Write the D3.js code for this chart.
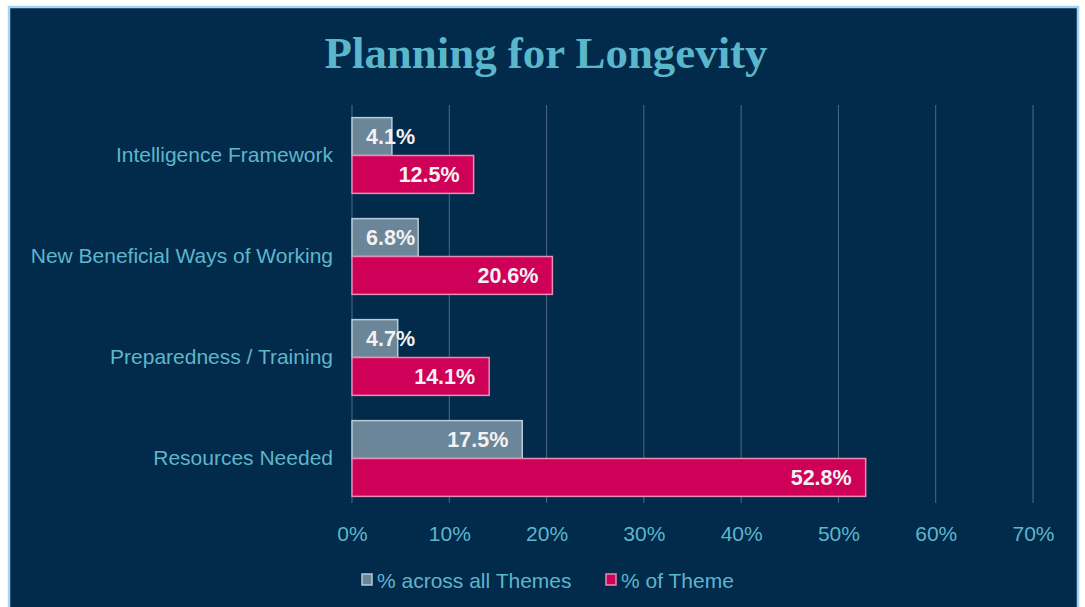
<!DOCTYPE html>
<html>
<head>
<meta charset="utf-8">
<script src="https://cdn.jsdelivr.net/npm/d3@7"></script>
<style>
  body { margin: 0; background: #ffffff; }
  svg { display: block; }
</style>
</head>
<body>
<svg width="1085" height="607"></svg>
<script>
// chart data
var categories = ["Intelligence Framework", "New Beneficial Ways of Working", "Preparedness / Training", "Resources Needed"];
var seriesNames = ["% across all Themes", "% of Theme"];
var acrossAll = [4.1, 6.8, 4.7, 17.5];
var ofTheme = [12.5, 20.6, 14.1, 52.8];
var xTicks = [0, 10, 20, 30, 40, 50, 60, 70];

var fills = ["#6b8599", "#cf0058"];
var strokes = ["#b9cad6", "#e88db3"];
var textColor = "#5db6cc";

var svg = d3.select("svg");

// panel with light border
svg.append("rect")
  .attr("x", 9).attr("y", 7)
  .attr("width", 1069).attr("height", 604)
  .attr("fill", "#022a4b")
  .attr("stroke", "#a6d3f2")
  .attr("stroke-width", 2.5);

// title
svg.append("text")
  .attr("x", 546).attr("y", 68)
  .attr("text-anchor", "middle")
  .attr("font-family", "Liberation Serif, serif")
  .attr("font-weight", "bold")
  .attr("font-size", 44)
  .attr("fill", "#5ab7cb")
  .attr("textLength", 443)
  .attr("lengthAdjust", "spacingAndGlyphs")
  .text("Planning for Longevity");

var plotLeft = 352, plotTop = 105, plotW = 681, plotH = 404;

var x = d3.scaleLinear().domain([0, 70]).range([plotLeft, plotLeft + plotW]);
var y0 = d3.scaleBand().domain(categories).range([plotTop, plotTop + plotH]).paddingInner(0.25).paddingOuter(0.125);
var y1 = d3.scaleBand().domain([0, 1]).range([0, y0.bandwidth()]);

// gridlines
svg.append("g").selectAll("line")
  .data(xTicks)
  .join("line")
  .attr("x1", function (d) { return x(d); })
  .attr("x2", function (d) { return x(d); })
  .attr("y1", plotTop)
  .attr("y2", plotTop + plotH - 6)
  .attr("stroke", "#4c6a85")
  .attr("stroke-width", 1);

// x axis tick labels
var xAxis = svg.append("g")
  .attr("transform", "translate(0," + (plotTop + plotH + 14) + ")")
  .call(d3.axisBottom(x).tickValues(xTicks).tickSize(0).tickFormat(function (d) { return d + "%"; }));
xAxis.select(".domain").remove();
xAxis.selectAll("text")
  .attr("fill", textColor)
  .attr("font-family", "Liberation Sans, Arial, sans-serif")
  .attr("font-size", 21);

// y axis category labels
var yAxis = svg.append("g")
  .attr("transform", "translate(" + (plotLeft - 19) + ",0)")
  .call(d3.axisLeft(y0).tickSize(0).tickPadding(0));
yAxis.select(".domain").remove();
yAxis.selectAll("text")
  .attr("fill", textColor)
  .attr("font-family", "Liberation Sans, Arial, sans-serif")
  .attr("font-size", 21);

var rows = categories.map(function (c, i) {
  return { cat: c, vals: [acrossAll[i], ofTheme[i]] };
});

var groups = svg.append("g").selectAll("g")
  .data(rows)
  .join("g")
  .attr("transform", function (d) { return "translate(0," + y0(d.cat) + ")"; });

groups.selectAll("rect")
  .data(function (d) { return d.vals.map(function (v, s) { return { v: v, s: s }; }); })
  .join("rect")
  .attr("x", x(0))
  .attr("y", function (d) { return y1(d.s); })
  .attr("width", function (d) { return x(d.v) - x(0); })
  .attr("height", y1.bandwidth())
  .attr("fill", function (d) { return fills[d.s]; })
  .attr("stroke", function (d) { return strokes[d.s]; })
  .attr("stroke-width", 1.5);

// value labels, inside end of bars
groups.selectAll("text.val")
  .data(function (d) { return d.vals.map(function (v, s) { return { v: v, s: s }; }); })
  .join("text")
  .attr("class", "val")
  .attr("y", function (d) { return y1(d.s) + y1.bandwidth() / 2; })
  .attr("dy", "0.36em")
  .attr("text-anchor", "end")
  .attr("font-family", "Liberation Sans, Arial, sans-serif")
  .attr("font-weight", "bold")
  .attr("font-size", 21.5)
  .attr("fill", "#f2f2f2")
  .text(function (d) { return d.v.toFixed(1) + "%"; })
  .attr("x", function (d) {
    var w = this.getComputedTextLength();
    return Math.max(x(d.v) - 14, x(0) + 14 + w);
  });

// legend
var legendX = [362, 606];
var legend = svg.append("g").selectAll("g")
  .data(seriesNames)
  .join("g")
  .attr("transform", function (d, i) { return "translate(" + legendX[i] + ",580)"; });
legend.append("rect")
  .attr("x", 0).attr("y", -6)
  .attr("width", 10).attr("height", 11)
  .attr("fill", function (d, i) { return fills[i]; })
  .attr("stroke", function (d, i) { return strokes[i]; })
  .attr("stroke-width", 1.5);
legend.append("text")
  .attr("x", 15).attr("y", 0)
  .attr("dy", "0.36em")
  .attr("fill", textColor)
  .attr("font-family", "Liberation Sans, Arial, sans-serif")
  .attr("font-size", 21)
  .text(function (d) { return d; });
</script>
</body>
</html>
